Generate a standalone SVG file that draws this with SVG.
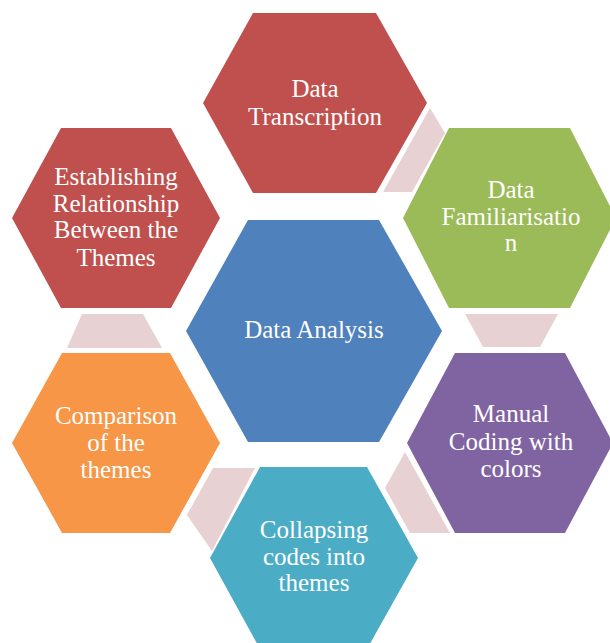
<svg xmlns="http://www.w3.org/2000/svg" width="610" height="643" viewBox="0 0 610 643">
  <style>
    .lbl { font-family: 'Liberation Serif', 'DejaVu Serif', serif; font-size: 25px; fill: #FFFFFF; text-anchor: middle; }
    .link { fill: #E8D1D2; }
    .red { fill: #C0504D; }
    .blue { fill: #4F81BD; }
    .green { fill: #9BBB59; }
    .purple { fill: #8064A2; }
    .teal { fill: #4BACC6; }
    .orange { fill: #F79646; }
  </style>
  <rect width="610" height="643" fill="#FFFFFF"/>

  <!-- trapezoid links between neighbouring hexagons -->
  <g id="connectors">
    <polygon class="link" points="430,108 445,133 412,192 383,192"/>
    <polygon class="link" points="465,314 558,314 540,347 483,347"/>
    <polygon class="link" points="405,452 450,533 410,533 385,488"/>
    <polygon class="link" points="213,468 255,468 212,551 187,515"/>
    <polygon class="link" points="82,314 143,314 162,348 67,348"/>
  </g>

  <g id="data-analysis">
    <polygon class="blue" points="186,331 248,220 379,220 442,331 379,442 248,442"/>
    <text class="lbl" x="314" y="338" font-family="Liberation Serif, serif">Data Analysis</text>
  </g>

  <g id="data-transcription">
    <polygon class="red" points="203,103 253,13 376,13 427,103 376,193 253,193"/>
    <text class="lbl" x="315" y="97">Data</text>
    <text class="lbl" x="315" y="125">Transcription</text>
  </g>

  <g id="data-familiarisation">
    <polygon class="green" points="403,218 449,128 570,128 616,218 570,308 449,308"/>
    <text class="lbl" x="511" y="198">Data</text>
    <text class="lbl" x="511" y="225">Familiarisatio</text>
    <text class="lbl" x="511" y="251">n</text>
  </g>

  <g id="manual-coding">
    <polygon class="purple" points="407,443 455,353 565,353 613,443 565,533 455,533"/>
    <text class="lbl" x="511" y="422">Manual</text>
    <text class="lbl" x="511" y="450">Coding with</text>
    <text class="lbl" x="511" y="477">colors</text>
  </g>

  <g id="collapsing-codes">
    <polygon class="teal" points="210,558 260,467 367,467 418,558 367,649 260,649"/>
    <text class="lbl" x="314" y="538">Collapsing</text>
    <text class="lbl" x="314" y="565">codes into</text>
    <text class="lbl" x="314" y="591">themes</text>
  </g>

  <g id="comparison">
    <polygon class="orange" points="12,443 62,353 170,353 220,443 170,533 62,533"/>
    <text class="lbl" x="116" y="424">Comparison</text>
    <text class="lbl" x="116" y="451">of the</text>
    <text class="lbl" x="116" y="478">themes</text>
  </g>

  <g id="establishing-relationship">
    <polygon class="red" points="12,218 61,128 171,128 220,218 171,308 61,308"/>
    <text class="lbl" x="116" y="185">Establishing</text>
    <text class="lbl" x="116" y="212">Relationship</text>
    <text class="lbl" x="116" y="238">Between the</text>
    <text class="lbl" x="116" y="266">Themes</text>
  </g>
</svg>
